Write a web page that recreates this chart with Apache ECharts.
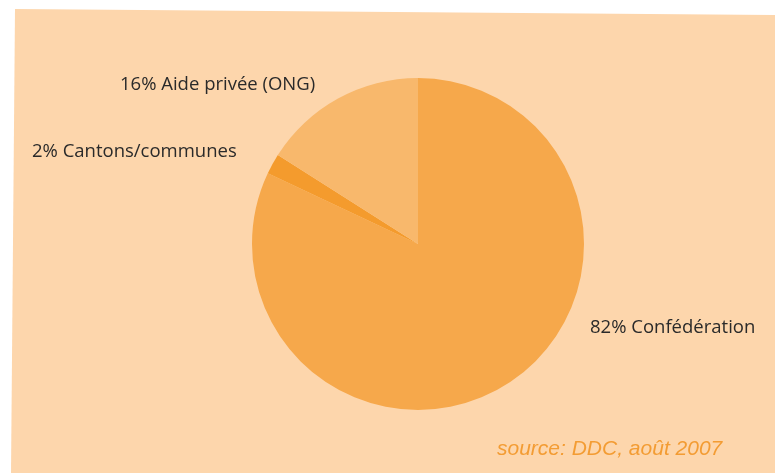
<!DOCTYPE html>
<html><head><meta charset="utf-8">
<script src="https://cdn.jsdelivr.net/npm/echarts@6/dist/echarts.min.js"></script>
<style>html,body{margin:0;padding:0;background:#fff}#c{width:775px;height:473px}</style>
</head><body><div id="c"></div>
<script>
const categories = ['Confédération', 'Cantons/communes', 'Aide privée (ONG)'];
const shares = [82, 2, 16];
const colors = ['#F6A84B', '#F49B2D', '#F8B86C'];
const labelSpots = [
  {x: 590, y: 328},
  {x: 32, y: 152},
  {x: 120, y: 85}
];
const sourceText = 'source: DDC, août 2007';

const chart = echarts.init(document.getElementById('c'), null, {renderer: 'canvas'});
chart.setOption({
  animation: false,
  backgroundColor: '#ffffff',
  graphic: [
    {type: 'polygon', z: -10, shape: {points: [[15, 9], [775, 15], [775, 473], [11, 473]]}, style: {fill: '#FDD6AC'}},
    {type: 'text', left: 497, top: 439, style: {text: sourceText, font: 'italic 21px "Liberation Sans", Arial, sans-serif', fill: '#F39C33'}}
  ],
  series: [{
    type: 'pie',
    center: [418, 244],
    radius: [0, 166],
    startAngle: 90,
    clockwise: true,
    data: categories.map((n, i) => ({name: n, value: shares[i], itemStyle: {color: colors[i]}})),
    label: {
      show: true,
      formatter: p => p.value + '% ' + p.name,
      fontFamily: '"Open Sans", sans-serif',
      fontSize: 18.5,
      color: '#2a2a2a'
    },
    labelLine: {show: false},
    labelLayout: p => ({x: labelSpots[p.dataIndex].x, y: labelSpots[p.dataIndex].y, align: 'left', verticalAlign: 'middle'}),
    emphasis: {disabled: true}
  }]
});
</script></body></html>
